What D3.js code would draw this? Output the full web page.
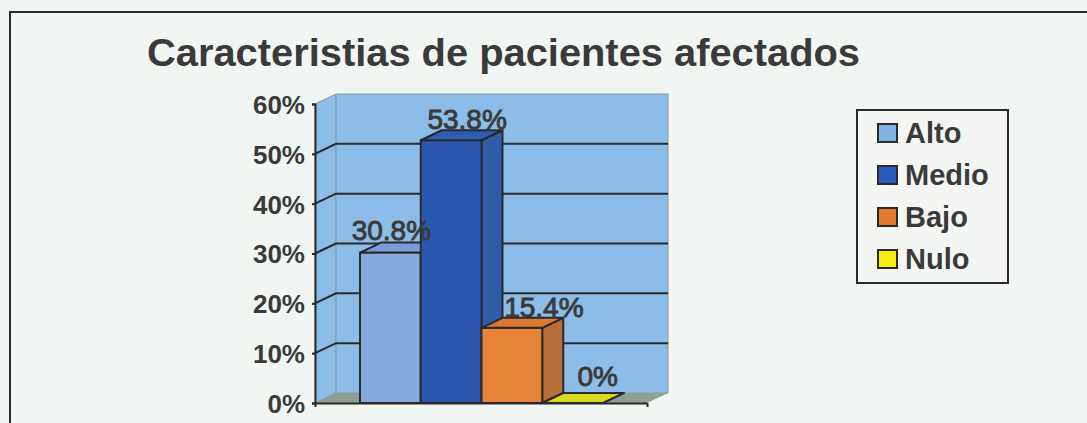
<!DOCTYPE html>
<html>
<head>
<meta charset="utf-8">
<script src="https://cdn.jsdelivr.net/npm/d3@7"></script>
<style>
  html, body { margin: 0; padding: 0; background: #f1f6f2; }
  svg { display: block; }
  text { font-family: "Liberation Sans", Arial, sans-serif; fill: #3a3a3a; }
</style>
</head>
<body>
<svg id="chart" width="1087" height="423"></svg>
<script>
const titleText = "Caracteristias de pacientes afectados";
const categories = ["Alto", "Medio", "Bajo", "Nulo"];
const values = [30.8, 53.8, 15.4, 0];
const valueLabels = ["30.8%", "53.8%", "15.4%", "0%"];
const yTicks = [0, 10, 20, 30, 40, 50, 60];

const frontColors = ["#86aade", "#2a58b0", "#e8843a", "#e6e620"];
const topColors = ["#7a9cd8", "#2c5cb4", "#d87a34", "#d8d820"];
const sideColors = ["#6f90c8", "#315ca8", "#b86e38", "#c8c820"];
const swatchColors = ["#7fb2e4", "#2a5cc0", "#e07a30", "#f6ee10"];

const svg = d3.select("#chart");
const ink = "#2a2a2a";

// plot frame, depth is the fake 3d offset of the back wall
const depth = { x: 21, y: -10 };
const plotLeft = 315, plotRight = 647, plotBottom = 403, plotTop = 104;

const y = d3.scaleLinear().domain([0, 60]).range([plotBottom, plotTop]);
// the bars stand a bit lower than the axis ticks in the scan
const barY = d3.scaleLinear().domain([0, 60]).range([plotBottom, 110]);
const x = d3.scaleBand().domain(categories).range([360, 603]);

const poly = pts => pts.map(p => p.join(",")).join(" ");

// outer border, runs off the right and bottom of the scan
svg.append("path")
    .attr("d", d3.line()([[10, 423], [10, 12], [1087, 12]]))
    .attr("fill", "none")
    .attr("stroke", ink)
    .attr("stroke-width", 2);

svg.append("text")
    .attr("x", 147)
    .attr("y", 66)
    .attr("font-size", 38)
    .attr("font-weight", "bold")
    .attr("textLength", 713)
    .attr("lengthAdjust", "spacingAndGlyphs")
    .text(titleText);

// walls and floor
svg.append("polygon")
    .attr("points", poly([[plotLeft, plotBottom], [plotLeft, plotTop], [plotLeft + depth.x, plotTop + depth.y], [plotLeft + depth.x, plotBottom + depth.y]]))
    .attr("fill", "#8dbce6")
    .attr("stroke", "#8a9aa0");
svg.append("polygon")
    .attr("points", poly([[plotLeft + depth.x, plotTop + depth.y], [plotRight + depth.x, plotTop + depth.y], [plotRight + depth.x, plotBottom + depth.y], [plotLeft + depth.x, plotBottom + depth.y]]))
    .attr("fill", "#8cbde8")
    .attr("stroke", "#8a9aa0");
svg.append("polygon")
    .attr("points", poly([[plotLeft, plotBottom], [plotRight, plotBottom], [plotRight + depth.x, plotBottom + depth.y], [plotLeft + depth.x, plotBottom + depth.y]]))
    .attr("fill", "#8f9f92");

// gridlines run along the side wall then across the back
svg.append("g")
    .selectAll("path")
    .data(yTicks.filter(d => d > 0 && d < 60))
    .join("path")
    .attr("d", d => d3.line()([[plotLeft, y(d)], [plotLeft + depth.x, y(d) + depth.y], [plotRight + depth.x, y(d) + depth.y]]))
    .attr("fill", "none")
    .attr("stroke", ink)
    .attr("stroke-width", 2);

// value axis
const yAxis = svg.append("g")
    .attr("transform", `translate(${plotLeft},0)`)
    .call(d3.axisLeft(y).tickValues(yTicks).tickFormat(d => d + "%").tickSize(3).tickPadding(7));
yAxis.selectAll("text")
    .attr("font-size", 26)
    .attr("font-weight", "bold")
    .attr("font-family", "Liberation Sans")
    .attr("fill", "#3a3a3a")
    .attr("dy", "0.36em");
yAxis.selectAll("line,path").attr("stroke", ink).attr("stroke-width", 2);

// category axis line
svg.append("g")
    .attr("transform", `translate(0,${plotBottom})`)
    .call(d3.axisBottom(d3.scaleLinear().domain([0, 1]).range([plotLeft, plotRight])).tickValues([0, 1]).tickFormat("").tickSize(4).tickSizeOuter(0))
    .call(g => g.selectAll("line,path").attr("stroke", ink).attr("stroke-width", 2));

// bars
const bars = svg.append("g")
    .selectAll("g")
    .data(categories)
    .join("g");

bars.each(function (c, i) {
    const g = d3.select(this);
    const x0 = x(c), x1 = x0 + x.bandwidth();
    const yt = barY(values[i]);
    const face = (pts, fill) => {
        g.append("polygon")
            .attr("points", poly(pts))
            .attr("fill", fill)
            .attr("stroke", ink)
            .attr("stroke-width", 2)
            .attr("stroke-linejoin", "round");
    };
    if (values[i] > 0) {
        face([[x1, plotBottom], [x1, yt], [x1 + depth.x, yt + depth.y], [x1 + depth.x, plotBottom + depth.y]], sideColors[i]);
        face([[x0, plotBottom], [x0, yt], [x1, yt], [x1, plotBottom]], frontColors[i]);
    }
    face([[x0, yt], [x1, yt], [x1 + depth.x, yt + depth.y], [x0 + depth.x, yt + depth.y]], topColors[i]);
});

// value labels sit over the bar tops, nudged the way the scan has them
const labelNudge = [{ x: 1, y: -1 }, { x: 16, y: 1 }, { x: 32, y: 1 }, { x: 25, y: -5 }];
svg.append("g")
    .selectAll("text")
    .data(categories)
    .join("text")
    .attr("x", (c, i) => x(c) + x.bandwidth() / 2 + labelNudge[i].x)
    .attr("y", (c, i) => barY(values[i]) + depth.y - 2 + labelNudge[i].y)
    .attr("text-anchor", "middle")
    .attr("font-size", 28)
    .attr("stroke", "#3a3a3a")
    .attr("stroke-width", 0.9)
    .text((c, i) => valueLabels[i]);

// legend
const legend = svg.append("g");
legend.append("rect")
    .attr("x", 857).attr("y", 110)
    .attr("width", 151).attr("height", 173)
    .attr("fill", "#f3f6f3")
    .attr("stroke", ink)
    .attr("stroke-width", 2);

const legendY = d3.scalePoint().domain(categories).range([133, 259]);
legend.selectAll("rect.swatch")
    .data(categories)
    .join("rect")
    .attr("class", "swatch")
    .attr("x", 878)
    .attr("y", c => legendY(c) - 9)
    .attr("width", 19)
    .attr("height", 18)
    .attr("fill", (c, i) => swatchColors[i])
    .attr("stroke", ink)
    .attr("stroke-width", 2);
legend.selectAll("text.entry")
    .data(categories)
    .join("text")
    .attr("class", "entry")
    .attr("x", 905)
    .attr("y", c => legendY(c) + 10)
    .attr("font-size", 29)
    .attr("font-weight", "bold")
    .text(c => c);
</script>
</body>
</html>
